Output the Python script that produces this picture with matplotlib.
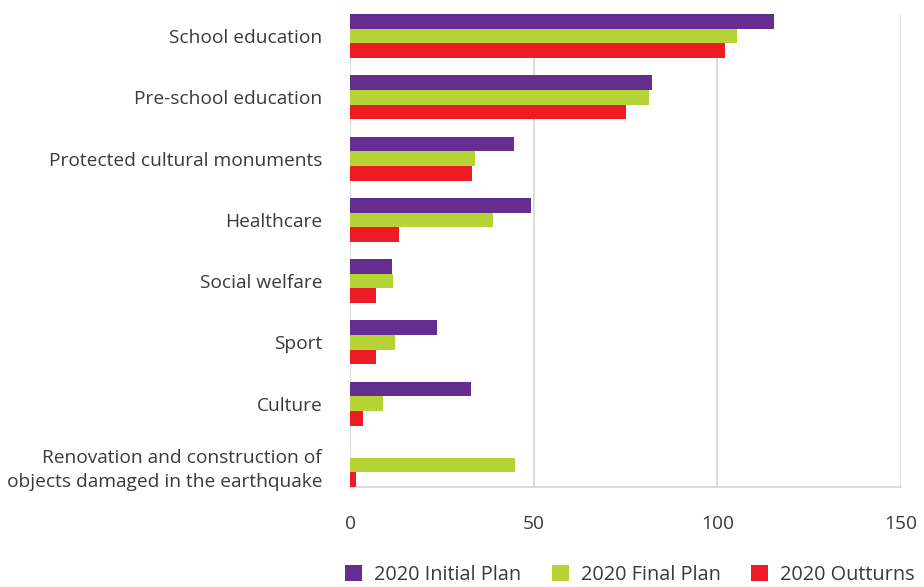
import matplotlib.pyplot as plt
import numpy as np

categories = ['School education', 'Pre-school education', 'Protected cultural monuments',
              'Healthcare', 'Social welfare', 'Sport', 'Culture',
              'Renovation and construction of\nobjects damaged in the earthquake']
initial_plan = [115.5, 82.2, 44.7, 49.4, 11.4, 23.7, 33.0, 0]
final_plan = [105.4, 81.3, 34.1, 38.9, 11.7, 12.2, 8.9, 45.0]
outturns = [102.1, 75.1, 33.2, 13.3, 7.0, 7.0, 3.5, 1.6]
series_names = ['2020 Initial Plan', '2020 Final Plan', '2020 Outturns']
colors = ['#652D90', '#B5D334', '#ED1C24']
xticks = [0, 50, 100, 150]

plt.rcParams['font.family'] = ['Open Sans', 'DejaVu Sans']
text_color = '#3a3a3a'
grid_color = '#d9d9d9'

fig = plt.figure(figsize=(9.24, 5.87), dpi=100)
ax = fig.add_axes([350 / 924, 1 - 487 / 587, 551 / 924, 473 / 587])

y = np.arange(len(categories))
h = 0.24
for i, (vals, name, c) in enumerate(zip([initial_plan, final_plan, outturns], series_names, colors)):
    ax.barh(y + (i - 1) * h, vals, height=h, color=c, label=name, zorder=3)

ax.set_xlim(0, 150)
ax.set_ylim(len(categories) - 1 + 1.5 * h, -1.5 * h)
ax.set_xticks(xticks)
ax.set_yticks(y)
ax.set_yticklabels(categories, ha='right', multialignment='right', linespacing=1.45)
ax.tick_params(axis='both', length=0, labelsize=13.8, colors=text_color)
ax.tick_params(axis='x', pad=20)
ax.tick_params(axis='y', pad=20)
ax.xaxis.grid(True, color=grid_color, linewidth=1.3, zorder=0)
for s in ['top', 'right', 'left']:
    ax.spines[s].set_visible(False)
ax.spines['bottom'].set_color(grid_color)
ax.spines['bottom'].set_linewidth(1.3)

fig.legend(loc='lower center', bbox_to_anchor=(630 / 924, -0.014), ncol=3, frameon=False,
           fontsize=14.3, labelcolor=text_color, handlelength=0.85, handleheight=0.85,
           columnspacing=1.55, handletextpad=0.6, borderaxespad=0.1)

fig.savefig('out.png', dpi=100)
